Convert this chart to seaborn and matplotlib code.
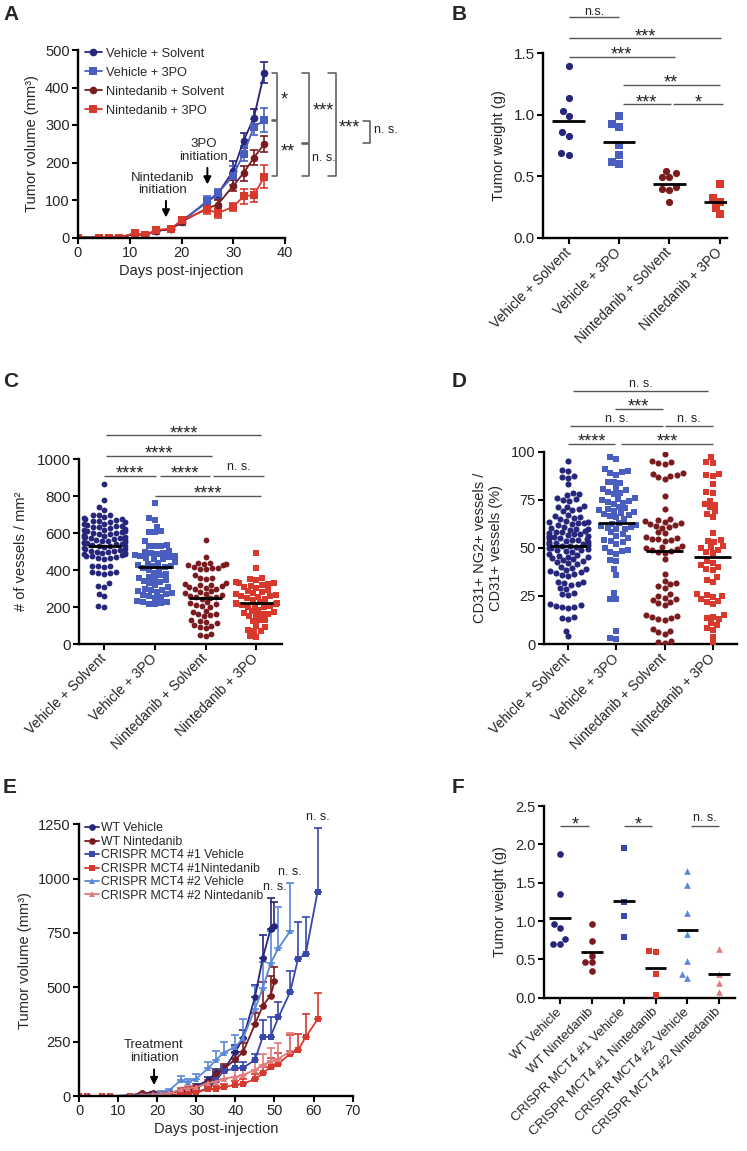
import numpy as np
import pandas as pd
import matplotlib
matplotlib.use('Agg')
import matplotlib.pyplot as plt
import seaborn as sns
import warnings
warnings.filterwarnings('ignore')

sns.set_theme(style='ticks')
plt.rcParams['font.family'] = ['Liberation Sans', 'DejaVu Sans']
plt.rcParams['axes.unicode_minus'] = False

# ---------------- Panel A data ----------------
a_groups = ['Vehicle + Solvent', 'Vehicle + 3PO', 'Nintedanib + Solvent', 'Nintedanib + 3PO']
a_days = [0, 4, 6, 8, 11, 13, 15, 18, 20, 25, 27, 30, 32, 34, 36]
a_veh_solv = [0, 0, 0, 0, 10, 6, 18, 22, 44, 95, 116, 178, 258, 320, 440]
a_veh_3po = [0, 0, 0, 0, 10, 6, 18, 22, 42, 98, 118, 165, 224, 295, 313]
a_nin_solv = [0, 0, 0, 0, 10, 6, 18, 22, 42, 78, 88, 138, 172, 213, 250]
a_nin_3po = [0, 0, 0, 0, 12, 6, 20, 24, 46, 75, 65, 82, 110, 113, 162]
a_veh_solv_err = [0, 0, 0, 0, 3, 2, 4, 4, 5, 10, 12, 25, 20, 22, 28]
a_veh_3po_err = [0, 0, 0, 0, 3, 2, 4, 4, 5, 12, 12, 25, 20, 22, 32]
a_nin_solv_err = [0, 0, 0, 0, 3, 2, 4, 4, 5, 10, 12, 15, 20, 20, 21]
a_nin_3po_err = [0, 0, 0, 0, 3, 2, 4, 4, 5, 12, 14, 10, 20, 17, 31]

# ---------------- Panel B data ----------------
b_veh_solv = [1.40, 1.134, 1.033, 0.99, 0.857, 0.83, 0.673, 0.687]
b_veh_3po = [0.993, 0.928, 0.898, 0.754, 0.673, 0.597, 0.618]
b_nin_solv = [0.524, 0.491, 0.491, 0.545, 0.394, 0.388, 0.415, 0.293]
b_nin_3po = [0.44, 0.293, 0.32, 0.239, 0.19]
b_means = [0.95, 0.78, 0.44, 0.29]

# ---------------- Panel C data ----------------
c_veh_solv = [866, 780, 743, 725, 700, 700, 698, 685, 680, 678, 675, 672, 668, 665, 662, 660,
              650, 648, 645, 640, 638, 635, 632, 630, 620, 618, 615, 612, 610, 605, 602, 600,
              598, 595, 590, 585, 582, 580, 578, 575, 572, 570, 565, 562, 560, 555, 552, 550,
              548, 545, 542, 540, 535, 532, 530, 528, 525, 520, 515, 512, 510, 505, 502, 500,
              498, 495, 490, 488, 485, 480, 478, 475, 470, 468, 465, 460, 425, 420, 420, 418,
              392, 390, 385, 385, 380, 330, 315, 310, 270, 258, 205, 203]
c_veh_3po = [762, 680, 672, 635, 612, 608, 605, 555, 535, 532, 530, 528, 505, 500, 495, 490,
             485, 480, 478, 475, 470, 465, 462, 460, 445, 440, 435, 430, 425, 420, 415, 410,
             405, 400, 385, 380, 372, 365, 360, 352, 345, 340, 335, 330, 318, 310, 300, 295,
             290, 285, 280, 275, 270, 265, 260, 255, 250, 235, 230, 225, 222, 218, 215]
c_nin_solv = [565, 470, 440, 438, 435, 432, 430, 428, 415, 412, 410, 408, 405, 375, 358, 355,
              350, 330, 325, 322, 318, 315, 310, 305, 300, 300, 285, 280, 275, 270, 265, 260,
              255, 252, 250, 245, 225, 220, 215, 210, 205, 200, 180, 175, 165, 160, 155, 150,
              130, 125, 120, 112, 105, 100, 90, 85, 55, 50, 45]
c_nin_3po = [492, 412, 358, 352, 345, 335, 330, 328, 325, 320, 315, 310, 305, 290, 285, 280,
             275, 270, 265, 262, 258, 255, 250, 245, 240, 225, 222, 220, 218, 215, 212, 210,
             205, 202, 200, 185, 180, 175, 170, 165, 160, 155, 150, 132, 128, 125, 100, 90,
             75, 70, 68, 42, 38]
c_means = [532, 418, 251, 220]

# ---------------- Panel D data ----------------
d_veh_solv = [95, 90.5, 90, 87.5, 87, 86.5, 83, 78.5, 78, 77.5, 76, 75.5, 75, 74.5, 72, 71.5,
              71, 70, 69.5, 69, 67, 66.5, 66, 65.5, 65, 64, 63.5, 63.5, 63, 63, 62.5, 62, 61,
              60.5, 60, 60, 59.5, 59, 58.5, 58, 57.5, 57, 57, 56.5, 56, 56, 55.5, 55, 55, 54.5,
              54, 54, 53.5, 53, 53, 52.5, 52, 52, 51.5, 51, 51, 50.5, 50, 50, 49.5, 49, 49,
              48.5, 48, 47, 46.5, 46, 45.5, 45, 44.5, 44, 43.5, 43, 42.5, 42, 41.5, 40, 39.5,
              39, 38.5, 38, 37.5, 37, 36.5, 36, 35.5, 32.5, 32, 31.5, 31, 30.5, 29, 28.5, 26.5,
              26, 25.5, 21, 20.5, 20, 19.5, 19, 18.5, 14, 13.5, 13, 7, 4]
d_veh_3po = [97, 96, 91, 90, 89.5, 89, 88, 84.5, 84, 83.5, 81, 80.5, 80, 79, 78.5, 78, 76,
             75.5, 75, 74.5, 74, 73.5, 73, 71, 70.5, 70, 69.5, 69, 68.5, 68, 67.5, 67, 66.5,
             66, 65, 63, 62.5, 62, 61.5, 61, 60.5, 60, 60, 58, 57, 56, 55, 54, 53.5, 53, 52,
             50, 49, 48.5, 48, 47, 43.5, 43, 39, 36, 26.5, 23.5, 23.5, 7, 3, 2.5]
d_nin_solv = [99, 95, 94.5, 94, 93.5, 89, 88.5, 88, 87.5, 87, 86, 77, 70, 65, 64.5, 64, 63.5,
              63, 62.5, 62, 61.5, 61, 60.5, 58, 57.5, 55.5, 55, 54.5, 54.5, 54, 53.5, 51, 50.5,
              50, 49.5, 49, 48.5, 48, 47.5, 44, 36.5, 33, 31.5, 31, 30, 29, 26, 25, 24, 23.5,
              23, 22, 21.5, 20.5, 15, 14.5, 14, 13.5, 13, 12.5, 8, 7, 6, 5, 1.5, 1, 0.5]
d_nin_3po = [97, 94.5, 94, 88.5, 88, 87.5, 83, 79, 78.5, 74.5, 73, 72.5, 71, 69, 67.5, 66,
             57.5, 54, 53.5, 53, 51, 50.5, 50, 49, 48, 47.5, 43, 42, 41, 40, 39, 38.5, 35,
             33.5, 32.5, 26, 25.5, 25, 24.5, 23.5, 22.5, 22, 21, 15, 14, 13.5, 13, 11, 10,
             8.5, 7.5, 3.5, 0.3]
d_means = [51, 63, 48.4, 45.4]

# ---------------- Panel E data ----------------
e_labels = ['WT Vehicle', 'WT Nintedanib', 'CRISPR MCT4 #1 Vehicle', 'CRISPR MCT4 #1Nintedanib',
            'CRISPR MCT4 #2 Vehicle', 'CRISPR MCT4 #2 Nintedanib']
e_days_wt = [0, 2, 6, 8, 13, 16, 19, 21, 23, 26, 28, 30, 33, 35, 37, 40, 42, 45, 47, 49, 50]
e_days_k1 = [0, 2, 6, 8, 13, 16, 19, 21, 23, 26, 28, 30, 33, 35, 37, 40, 42, 45, 47, 49, 51, 54, 56, 58, 61]
e_days_k2 = [0, 2, 6, 8, 13, 16, 19, 21, 23, 26, 28, 30, 33, 35, 37, 40, 42, 45, 47, 49, 51, 54]
e_wt_veh = [0, 0, 0, 0, 2, 12, 14, 10, 12, 25, 28, 45, 72, 106, 118, 204, 265, 455, 635, 768, 782]
e_wt_veh_err = [0, 0, 0, 0, 2, 4, 4, 4, 5, 8, 10, 12, 15, 18, 20, 30, 40, 55, 105, 145, 112]
e_wt_nin = [0, 0, 0, 0, 2, 12, 14, 10, 12, 28, 32, 40, 60, 95, 125, 168, 204, 330, 415, 462, 527]
e_wt_nin_err = [0, 0, 0, 0, 2, 4, 4, 4, 5, 8, 10, 12, 15, 18, 22, 30, 40, 50, 110, 90, 67]
e_k1_veh = [0, 0, 0, 0, 0, 0, 2, 2, 3, 8, 12, 18, 35, 72, 115, 127, 130, 166, 273, 273, 362, 478, 630, 655, 938]
e_k1_veh_err = [0, 0, 0, 0, 0, 0, 1, 1, 2, 4, 5, 6, 10, 15, 20, 30, 25, 28, 75, 90, 72, 95, 170, 170, 295]
e_k1_nin = [0, 0, 0, 0, 0, 0, 2, 3, 5, 8, 10, 18, 30, 32, 42, 50, 57, 77, 104, 135, 148, 195, 210, 272, 352]
e_k1_nin_err = [0, 0, 0, 0, 0, 0, 1, 2, 3, 5, 6, 8, 10, 12, 15, 18, 20, 25, 30, 40, 50, 85, 75, 105, 120]
e_k2_veh = [0, 0, 0, 0, 2, 5, 8, 15, 25, 72, 65, 80, 127, 165, 200, 225, 268, 400, 495, 610, 680, 758]
e_k2_veh_err = [0, 0, 0, 0, 2, 3, 4, 6, 8, 20, 15, 20, 30, 40, 50, 55, 85, 105, 120, 150, 190, 222]
e_k2_nin = [0, 0, 0, 0, 0, 2, 5, 8, 12, 30, 35, 40, 60, 66, 80, 88, 97, 120, 143, 160, 172, 205]
e_k2_nin_err = [0, 0, 0, 0, 0, 1, 2, 3, 5, 8, 10, 12, 15, 20, 25, 30, 35, 45, 50, 60, 70, 85]

# ---------------- Panel F data ----------------
f_labels = ['WT Vehicle', 'WT Nintedanib', 'CRISPR MCT4 #1 Vehicle', 'CRISPR MCT4 #1 Nintedanib',
            'CRISPR MCT4 #2 Vehicle', 'CRISPR MCT4 #2 Nintedanib']
f_wt_veh = [1.87, 1.35, 0.96, 0.91, 0.765, 0.70, 0.70]
f_wt_nin = [0.96, 0.74, 0.55, 0.46, 0.47, 0.35]
f_k1_veh = [1.95, 1.25, 1.07, 0.79]
f_k1_nin = [0.60, 0.61, 0.31, 0.04]
f_k2_veh = [1.65, 1.47, 1.107, 0.83, 0.477, 0.315, 0.26]
f_k2_nin = [0.63, 0.315, 0.19, 0.08]
f_means = [1.035, 0.59, 1.265, 0.39, 0.88, 0.305]

# ---------------- styling ----------------
NAVY = '#26267c'
BLUE = '#4a5ec0'
BROWN = '#7a1b1f'
RED = '#d8392c'
BLUE_K1 = '#3747aa'
BLUE_K2 = '#5a88d8'
PINK = '#e27b7b'
SIG = '#555555'

W, H = 747, 1151
fig = plt.figure(figsize=(W / 100, H / 100), dpi=100)


def px_axes(l, t, r, b):
    return fig.add_axes([l / W, 1 - b / H, (r - l) / W, (b - t) / H])


def style(ax, ls=10.5):
    sns.despine(ax=ax)
    for s in ['left', 'bottom']:
        ax.spines[s].set_linewidth(1.7)
        ax.spines[s].set_color('black')
    ax.tick_params(width=1.5, length=4, color='black', labelsize=ls, pad=2)
    ax.set_facecolor('none')


def put_text(ax, x, y, s, ha='center', dx=0, dy=0, fs_ns=9):
    stars = set(s) == {'*'}
    fs = 13 if stars else fs_ns
    base = -0.58 * fs if stars else -0.27 * fs
    ax.annotate(s, xy=(x, y), xytext=(dx, dy + base), textcoords='offset points',
                ha=ha, va='baseline', fontsize=fs, annotation_clip=False, color='#222222')


def sig_bar(ax, x1, x2, y, s, dy_star=5.5, dy_ns=4.5):
    ax.plot([x1, x2], [y, y], color=SIG, lw=1.0, clip_on=False, solid_capstyle='butt')
    stars = set(s) == {'*'}
    put_text(ax, (x1 + x2) / 2, y, s, dy=dy_star if stars else dy_ns)


def swarm_panel(ax, groups, series, colors, markers, means, size, halfw):
    for g, vals, c, m in zip(groups, series, colors, markers):
        df = pd.DataFrame({'group': [g] * len(vals), 'value': vals})
        sns.swarmplot(data=df, x='group', y='value', order=groups, color=c, marker=m,
                      size=size, linewidth=0, ax=ax, warn_thresh=1)
    for i, mu in enumerate(means):
        ax.plot([i - halfw, i + halfw], [mu, mu], color='black', lw=2.0, zorder=5,
                solid_capstyle='butt')


def cat_ticks(ax, labels, fs):
    ax.set_xticks(range(len(labels)))
    ax.set_xticklabels(labels, rotation=45, ha='right', va='center', rotation_mode='anchor',
                       fontsize=fs)
    ax.tick_params(axis='x', pad=5)
    ax.set_xlabel('')


def panel_letter(x, y, s):
    fig.text(x / W, 1 - y / H, s, fontsize=15, fontweight='bold', ha='left', va='top')


# ================= Panel A =================
axA = px_axes(78, 50, 285, 237.5)
a_series = [a_veh_solv, a_veh_3po, a_nin_solv, a_nin_3po]
a_errs = [a_veh_solv_err, a_veh_3po_err, a_nin_solv_err, a_nin_3po_err]
a_cols = [NAVY, BLUE, BROWN, RED]
a_marks = ['o', 's', 'o', 's']
rows = []
for g, vals in zip(a_groups, a_series):
    for d, v in zip(a_days, vals):
        rows.append((g, d, v))
dfA = pd.DataFrame(rows, columns=['group', 'day', 'vol'])
for vals, errs, c in zip(a_series, a_errs, a_cols):
    axA.errorbar(a_days, vals, yerr=errs, fmt='none', ecolor=c, elinewidth=1.2, capsize=3,
                 capthick=1.2)
sns.lineplot(data=dfA, x='day', y='vol', hue='group', style='group', hue_order=a_groups,
             style_order=a_groups, palette=a_cols, markers=dict(zip(a_groups, a_marks)),
             dashes=False, markersize=5.5, markeredgewidth=0, linewidth=1.3, ax=axA)
h, l = axA.get_legend_handles_labels()
axA.legend(h, l, loc='upper left', bbox_to_anchor=(0.01, 1.04), frameon=False, fontsize=9.2,
           labelspacing=0.55, handlelength=1.3, handletextpad=0.3, borderaxespad=0)
axA.set_xlim(0, 40)
axA.set_ylim(0, 500)
axA.set_xticks([0, 10, 20, 30, 40])
axA.set_yticks([0, 100, 200, 300, 400, 500])
style(axA, 10.5)
axA.set_xlabel('Days post-injection', fontsize=10.5, labelpad=3)
axA.set_ylabel('Tumor volume (mm³)', fontsize=10.5, labelpad=4)

finals = [s[-1] for s in a_series]
a_brackets = [(0, 1, 38.5, '*'), (1, 3, 38.5, '**'), (0, 2, 44.6, '***'),
              (2, 3, 44.6, 'n. s.'), (0, 3, 49.8, '***'), (1, 2, 56.5, 'n. s.')]
for gi, gj, xb, s in a_brackets:
    y1, y2 = finals[gi] - 1.5, finals[gj] + 1.5
    tick = 1.1 if xb < 40 else 1.4
    axA.plot([xb - tick, xb, xb, xb - tick], [y1, y1, y2, y2], color=SIG, lw=1.1,
             clip_on=False)
    put_text(axA, xb, (y1 + y2) / 2, s, ha='left', dx=2.5, dy=2)

axA.annotate('', xy=(17, 46), xytext=(17, 105),
             arrowprops=dict(arrowstyle='-|>', color='black', lw=1.4, mutation_scale=11))
axA.text(16.3, 143, 'Nintedanib\ninitiation', ha='center', va='center', fontsize=9.5,
         linespacing=1.05)
axA.annotate('', xy=(25, 134), xytext=(25, 193),
             arrowprops=dict(arrowstyle='-|>', color='black', lw=1.4, mutation_scale=11))
axA.text(24.2, 232, '3PO\ninitiation', ha='center', va='center', fontsize=9.5,
         linespacing=1.05)

# ================= Panel B =================
axB = px_axes(543.3, 53.3, 727, 237.7)
swarm_panel(axB, a_groups, [b_veh_solv, b_veh_3po, b_nin_solv, b_nin_3po], a_cols,
            a_marks, b_means, 5.2, 0.32)
axB.set_xlim(-0.5, 3.14)
axB.set_ylim(0, 1.5)
axB.set_yticks([0, 0.5, 1.0, 1.5])
axB.set_yticklabels(['0.0', '0.5', '1.0', '1.5'])
style(axB, 11)
cat_ticks(axB, a_groups, 10)
axB.set_ylabel('Tumor weight (g)', fontsize=10.5, labelpad=6)
b_sig = [(0, 1, 1.793, 'n.s.'), (0, 3.03, 1.622, '***'), (0, 2.1, 1.473, '***'),
         (1.07, 3.0, 1.242, '**'), (1.07, 2.03, 1.085, '***'), (2.07, 3.06, 1.085, '*')]
for x1, x2, y, s in b_sig:
    sig_bar(axB, x1, x2, y, s, dy_star=5.5, dy_ns=4.2)

# ================= Panel C =================
axC = px_axes(79, 459.3, 281.7, 644)
swarm_panel(axC, a_groups, [c_veh_solv, c_veh_3po, c_nin_solv, c_nin_3po], a_cols, a_marks,
            c_means, 4.2, 0.33)
axC.set_xlim(-0.5, 3.5)
axC.set_ylim(0, 1000)
axC.set_yticks([0, 200, 400, 600, 800, 1000])
style(axC, 11)
cat_ticks(axC, a_groups, 10)
axC.set_ylabel('# of vessels / mm²', fontsize=10.5, labelpad=6)
c_sig = [(0.03, 3.1, 1132, '****'), (0.03, 2.12, 1020, '****'), (0, 1.02, 911, '****'),
         (1.1, 2.09, 911, '****'), (2.15, 3.16, 911, 'n. s.'), (1.0, 3.1, 803, '****')]
for x1, x2, y, s in c_sig:
    sig_bar(axC, x1, x2, y, s, dy_star=5.3, dy_ns=6.5)

# ================= Panel D =================
axD = px_axes(544.3, 451.7, 736.7, 644)
swarm_panel(axD, a_groups, [d_veh_solv, d_veh_3po, d_nin_solv, d_nin_3po], a_cols, a_marks,
            d_means, 4.4, 0.38)
axD.set_xlim(-0.5, 3.5)
axD.set_ylim(0, 100)
axD.set_yticks([0, 25, 50, 75, 100])
style(axD, 10.5)
cat_ticks(axD, a_groups, 10)
axD.set_ylabel('CD31+ NG2+ vessels /\nCD31+ vessels (%)', fontsize=10.5, labelpad=6,
               linespacing=1.2)
d_sig = [(0.09, 2.91, 131.7, 'n. s.'), (0.96, 1.96, 122, '***'), (0.03, 1.97, 113.5, 'n. s.'),
         (2.0, 3.0, 113.5, 'n. s.'), (0, 0.98, 104, '****'), (1.1, 3.0, 104, '***')]
for x1, x2, y, s in d_sig:
    sig_bar(axD, x1, x2, y, s, dy_star=5.8, dy_ns=5.0)

# ================= Panel E =================
axE = px_axes(79, 824.3, 352.7, 1096)
e_days = [e_days_wt, e_days_wt, e_days_k1, e_days_k1, e_days_k2, e_days_k2]
e_vals = [e_wt_veh, e_wt_nin, e_k1_veh, e_k1_nin, e_k2_veh, e_k2_nin]
e_errs = [e_wt_veh_err, e_wt_nin_err, e_k1_veh_err, e_k1_nin_err, e_k2_veh_err, e_k2_nin_err]
e_cols = [NAVY, BROWN, BLUE_K1, RED, BLUE_K2, PINK]
e_marks = ['o', 'o', 's', 's', '^', '^']
rows = []
for lab, ds, vs in zip(e_labels, e_days, e_vals):
    for d, v in zip(ds, vs):
        rows.append((lab, d, v))
dfE = pd.DataFrame(rows, columns=['group', 'day', 'vol'])
for ds, vs, es, c in zip(e_days, e_vals, e_errs, e_cols):
    axE.errorbar(ds, vs, yerr=[np.zeros(len(es)), es], fmt='none', ecolor=c, elinewidth=1.2,
                 capsize=3, capthick=1.2)
sns.lineplot(data=dfE, x='day', y='vol', hue='group', style='group', hue_order=e_labels,
             style_order=e_labels, palette=e_cols, markers=dict(zip(e_labels, e_marks)),
             dashes=False, markersize=4.8, markeredgewidth=0, linewidth=1.3, ax=axE)
h, l = axE.get_legend_handles_labels()
axE.legend(h, l, loc='upper left', bbox_to_anchor=(0.005, 1.025), frameon=False, fontsize=8.8,
           labelspacing=0.12, handlelength=1.1, handletextpad=0.2, borderaxespad=0)
axE.set_xlim(0, 70)
axE.set_ylim(0, 1250)
axE.set_xticks(range(0, 71, 10))
axE.set_yticks([0, 250, 500, 750, 1000, 1250])
style(axE, 10.5)
axE.set_xlabel('Days post-injection', fontsize=10.5, labelpad=3)
axE.set_ylabel('Tumor volume (mm³)', fontsize=10.5, labelpad=4)
for idx in [2, 4, 0]:
    ds, vs, es = e_days[idx], e_vals[idx], e_errs[idx]
    put_text(axE, ds[-1], vs[-1] + es[-1], 'n. s.', dy=8 if idx != 0 else 11)
axE.annotate('', xy=(19.2, 37), xytext=(19.2, 135),
             arrowprops=dict(arrowstyle='-|>', color='black', lw=1.4, mutation_scale=11))
axE.text(19.2, 205, 'Treatment\ninitiation', ha='center', va='center', fontsize=9.5,
         linespacing=1.05)

# ================= Panel F =================
axF = px_axes(544.3, 806, 735, 997.7)
f_cols = [NAVY, BROWN, BLUE_K1, RED, BLUE_K2, PINK]
f_marks = ['o', 'o', 's', 's', '^', '^']
swarm_panel(axF, f_labels, [f_wt_veh, f_wt_nin, f_k1_veh, f_k1_nin, f_k2_veh, f_k2_nin],
            f_cols, f_marks, f_means, 4.8, 0.34)
axF.set_xlim(-0.5, 5.5)
axF.set_ylim(0, 2.5)
axF.set_yticks([0, 0.5, 1.0, 1.5, 2.0, 2.5])
axF.set_yticklabels(['0.0', '0.5', '1.0', '1.5', '2.0', '2.5'])
style(axF, 10.5)
cat_ticks(axF, f_labels, 9.5)
axF.set_ylabel('Tumor weight (g)', fontsize=10.5, labelpad=6)
f_sig = [(0, 0.92, 2.24, '*'), (2, 2.9, 2.24, '*'), (4.1, 5.0, 2.24, 'n. s.')]
for x1, x2, y, s in f_sig:
    sig_bar(axF, x1, x2, y, s, dy_star=5.3, dy_ns=6)

for x, y, s in [(3, 5, 'A'), (452, 5, 'B'), (3, 372, 'C'), (452, 372, 'D'), (3, 778, 'E'),
                (452, 778, 'F')]:
    panel_letter(x, y, s)

fig.savefig('out.png', dpi=100, facecolor='white')
